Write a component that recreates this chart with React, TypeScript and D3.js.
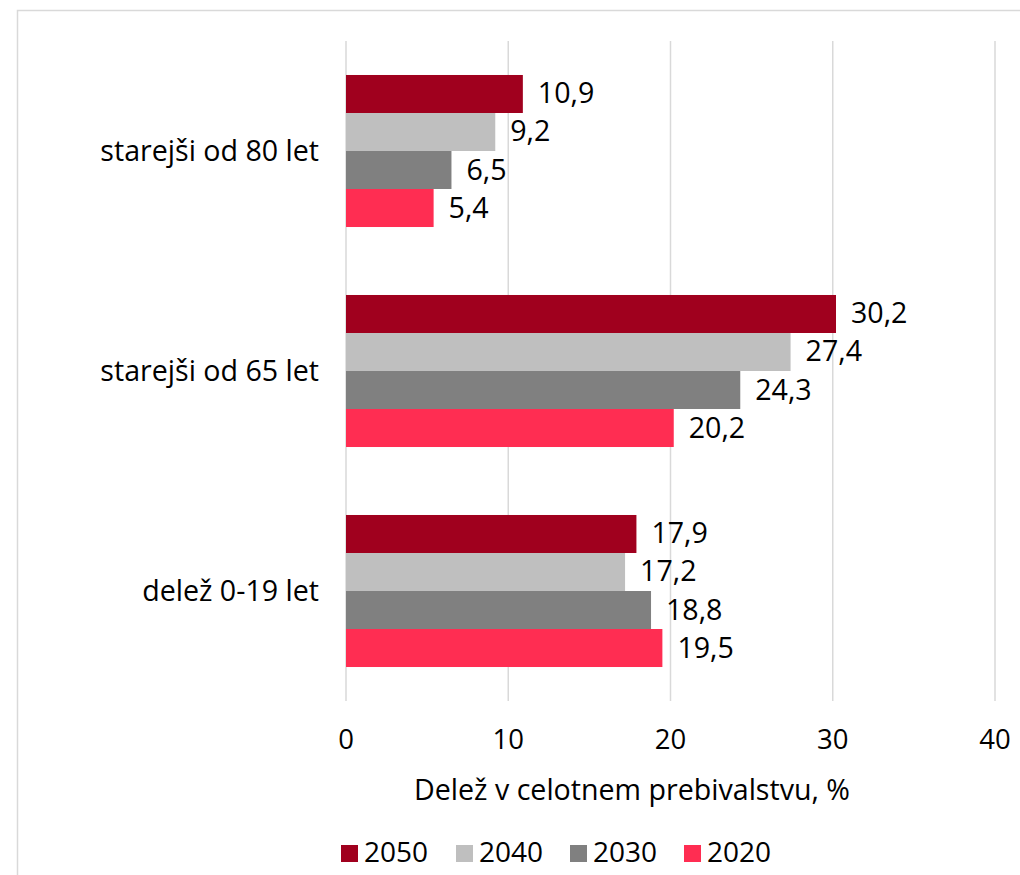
import React from "react";
import * as d3 from "d3";

const categories = ["starejši od 80 let", "starejši od 65 let", "delež 0-19 let"];
const seriesNames = ["2050", "2040", "2030", "2020"];
const values2050 = [10.9, 30.2, 17.9];
const values2040 = [9.2, 27.4, 17.2];
const values2030 = [6.5, 24.3, 18.8];
const values2020 = [5.4, 20.2, 19.5];
const xTicks = [0, 10, 20, 30, 40];
const colors = ["#A0001E", "#BFBFBF", "#808080", "#FF2D52"];
const axisTitle = "Delež v celotnem prebivalstvu, %";

const seriesValues = [values2050, values2040, values2030, values2020];

export default function App() {
  const W = 1020, H = 875;
  const font = "'Open Sans', 'Noto Sans', sans-serif";
  const fs = 28.6;
  const x = d3.scaleLinear().domain([0, 40]).range([346, 995]);
  const y0 = d3.scaleBand().domain(categories).range([41, 701]).paddingInner(0.309).paddingOuter(0.1545);
  const y1 = d3.scaleBand().domain(seriesNames).range([0, y0.bandwidth()]);
  const fmt = (v: number) => v.toFixed(1).replace(".", ",");
  const legendX = [341, 456, 570, 684];

  return (
    <svg width={W} height={H} style={{ position: "absolute", left: 0, top: 0, display: "block" }} fontFamily={font}>
      <rect x={0} y={0} width={W} height={H} fill="#fff" />
      <rect x={17.5} y={10.5} width={W + 20} height={H + 20} fill="none" stroke="#D9D9D9" strokeWidth={1.5} />
      {xTicks.map((t) => (
        <line key={t} x1={x(t)} x2={x(t)} y1={41} y2={701} stroke="#D9D9D9" strokeWidth={1.5} />
      ))}
      {categories.map((c, ci) => (
        <g key={c}>
          {seriesNames.map((s, si) => {
            const v = seriesValues[si][ci];
            const yy = (y0(c) as number) + (y1(s) as number);
            const h = y1.bandwidth();
            return (
              <g key={s}>
                <rect x={x(0)} y={yy} width={x(v) - x(0)} height={h} fill={colors[si]} />
                <text x={x(v) + 15} y={yy + h / 2 + 9.5} fontSize={fs} fill="#000">
                  {fmt(v)}
                </text>
              </g>
            );
          })}
          <text x={319} y={(y0(c) as number) + y0.bandwidth() / 2 + 9.5} fontSize={fs} textAnchor="end" fill="#000">
            {c}
          </text>
        </g>
      ))}
      {xTicks.map((t) => (
        <text key={t} x={x(t)} y={748.5} fontSize={27.5} textAnchor="middle" fill="#000">
          {t}
        </text>
      ))}
      <text x={632} y={800} fontSize={fs} textAnchor="middle" fill="#000">
        {axisTitle}
      </text>
      {seriesNames.map((s, si) => (
        <g key={s}>
          <rect x={legendX[si]} y={845} width={17} height={17} fill={colors[si]} />
          <text x={legendX[si] + 23} y={862} fontSize={28} fill="#000">
            {s}
          </text>
        </g>
      ))}
    </svg>
  );
}
